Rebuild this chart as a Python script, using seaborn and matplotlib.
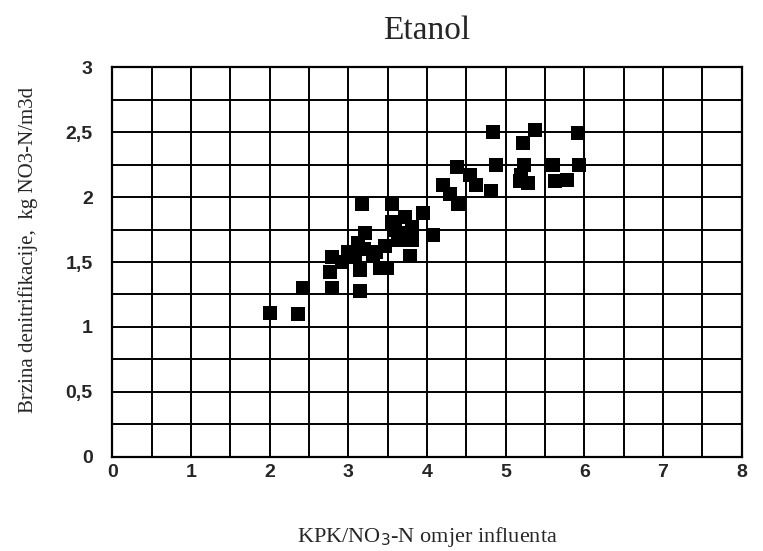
import matplotlib
matplotlib.use("Agg")
from matplotlib import pyplot as plt
import pandas as pd
import seaborn as sns
import numpy as np

# KPK/NO3-N ratio vs denitrification rate
kpk = [2.0, 2.36, 2.43, 2.8, 2.77, 2.8, 2.92, 3.17, 3.15, 3.56,
       3.95, 3.56, 3.72, 3.81, 4.08, 3.21, 3.12, 3.09, 3.15, 3.31,
       3.47, 3.63, 3.81, 3.78, 3.49, 3.40, 3.2, 3.7, 3.6, 3.0,
       3.35, 4.84, 5.38, 5.22, 5.92, 4.38, 4.55, 4.63, 4.88, 4.82,
       4.2, 4.29, 4.39, 5.24, 5.2, 5.28, 5.18, 5.6, 5.93, 5.63, 5.78]
brzina = [1.11, 1.10, 1.30, 1.30, 1.42, 1.54, 1.50, 1.95, 1.28, 1.95,
          1.88, 1.81, 1.85, 1.77, 1.71, 1.72, 1.65, 1.54, 1.44, 1.55,
          1.62, 1.67, 1.67, 1.55, 1.45, 1.45, 1.60, 1.72, 1.75, 1.58,
          1.58, 2.50, 2.52, 2.42, 2.49, 2.23, 2.17, 2.09, 2.25, 2.05,
          2.09, 2.02, 1.95, 2.25, 2.17, 2.11, 2.12, 2.25, 2.25, 2.12, 2.13]

xticks = [0, 1, 2, 3, 4, 5, 6, 7, 8]
yticks = [0, 0.5, 1, 1.5, 2, 2.5, 3]
ytick_labels = ["0", "0,5", "1", "1,5", "2", "2,5", "3"]

df = pd.DataFrame({"kpk": kpk, "brzina": brzina})

sns.set_style("white")
plt.rcParams['font.family'] = ['Liberation Serif', 'DejaVu Serif']

fig = plt.figure(figsize=(7.63, 5.51), dpi=100)
ax = fig.add_axes([0.147, 0.171, 0.825, 0.707])

sns.scatterplot(data=df, x="kpk", y="brzina", ax=ax,
                marker="s", color="black", s=95, linewidth=0, zorder=3)

ax.set_xlim(0, 8)
ax.set_ylim(0, 3)
ax.set_xticks(xticks)
ax.set_xticks(np.arange(0, 8.01, 0.5), minor=True)
ax.set_yticks(yticks)
ax.set_yticks(np.arange(0, 3.01, 0.25), minor=True)
ax.set_yticklabels(ytick_labels)
ax.set_xticklabels([str(t) for t in xticks])
ax.grid(True, which="both", color="black", lw=1.4)
ax.tick_params(which="both", length=0)
ax.tick_params(axis="x", pad=5)
ax.tick_params(axis="y", pad=14)
for lab in ax.get_xticklabels() + ax.get_yticklabels():
    lab.set_family("Liberation Sans")
    lab.set_fontweight("bold")
    lab.set_fontsize(14)
for sp in ax.spines.values():
    sp.set_color("black")
    sp.set_linewidth(1.6)

ax.set_title("Etanol", fontsize=24, pad=20)
ax.set_xlabel("KPK/NO$_3$-N omjer influenta", fontsize=16, labelpad=32)
ax.set_ylabel("Brzina denitrifikacije,  kg NO3-N/m3d", fontsize=15, labelpad=24)
ax.yaxis.set_label_coords(-0.118, 0.53)

fig.savefig("out.png", dpi=100)
